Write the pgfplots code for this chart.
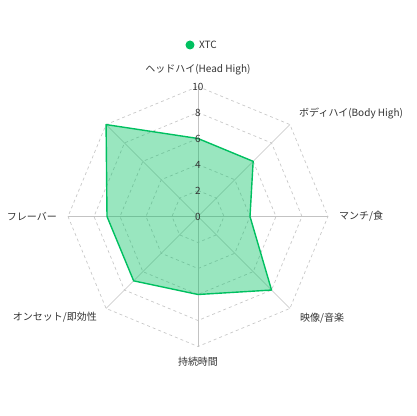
\documentclass[border=0pt]{standalone}
\usepackage{pgfplots}
\pgfplotsset{compat=1.18}
\usepackage{fontspec}
\setmainfont{Noto Sans CJK JP}
\definecolor{xtc}{RGB}{0,192,96}
\definecolor{gridc}{RGB}{200,200,200}
\definecolor{spokec}{RGB}{195,195,195}
\definecolor{txt}{RGB}{51,51,51}
\begin{document}
\begin{tikzpicture}[font=\fontsize{10}{12}\selectfont, text=txt]
\begin{axis}[x=13pt, y=13pt, hide axis, xmin=-10, xmax=10, ymin=-10, ymax=10, clip=false]
% rings
\addplot[gridc, line width=0.7pt, dash pattern=on 3pt off 3pt, data cs=polar] coordinates {(90,2)(45,2)(0,2)(-45,2)(-90,2)(-135,2)(180,2)(135,2)(90,2)};
\addplot[gridc, line width=0.7pt, dash pattern=on 3pt off 3pt, data cs=polar] coordinates {(90,4)(45,4)(0,4)(-45,4)(-90,4)(-135,4)(180,4)(135,4)(90,4)};
\addplot[gridc, line width=0.7pt, dash pattern=on 3pt off 3pt, data cs=polar] coordinates {(90,6)(45,6)(0,6)(-45,6)(-90,6)(-135,6)(180,6)(135,6)(90,6)};
\addplot[gridc, line width=0.7pt, dash pattern=on 3pt off 3pt, data cs=polar] coordinates {(90,8)(45,8)(0,8)(-45,8)(-90,8)(-135,8)(180,8)(135,8)(90,8)};
\addplot[gridc, line width=0.7pt, dash pattern=on 3pt off 3pt, data cs=polar] coordinates {(90,10)(45,10)(0,10)(-45,10)(-90,10)(-135,10)(180,10)(135,10)(90,10)};
% spokes
\addplot[spokec, line width=0.7pt, data cs=polar] coordinates {(90,0)(90,10)};
\addplot[spokec, line width=0.7pt, data cs=polar] coordinates {(45,0)(45,10)};
\addplot[spokec, line width=0.7pt, data cs=polar] coordinates {(0,0)(0,10)};
\addplot[spokec, line width=0.7pt, data cs=polar] coordinates {(-45,0)(-45,10)};
\addplot[spokec, line width=0.7pt, data cs=polar] coordinates {(-90,0)(-90,10)};
\addplot[spokec, line width=0.7pt, data cs=polar] coordinates {(-135,0)(-135,10)};
\addplot[spokec, line width=0.7pt, data cs=polar] coordinates {(180,0)(180,10)};
\addplot[spokec, line width=0.7pt, data cs=polar] coordinates {(135,0)(135,10)};
% data
\addplot[xtc, line width=1.4pt, fill=xtc, fill opacity=0.4, draw opacity=1, line join=round, data cs=polar] coordinates {(90,6)(45,6)(0,4)(-45,8)(-90,6)(-135,7)(180,7)(135,10)} -- cycle;
% radial tick labels
\node at (axis cs:0,0) {0};
\node at (axis cs:0,2) {2};
\node at (axis cs:0,4) {4};
\node at (axis cs:0,6) {6};
\node at (axis cs:0,8) {8};
\node at (axis cs:0,10) {10};
\coordinate (c) at (axis cs:0,0);
\end{axis}
% category labels
\node at ([shift={(0pt,146.5pt)}]c) {ヘッドハイ(Head High)};
\node[anchor=west, inner sep=0pt] at ([shift={(101pt,103.5pt)}]c) {ボディハイ(Body High)};
\node[anchor=west, inner sep=0pt] at ([shift={(141pt,0pt)}]c) {マンチ/食};
\node[anchor=west, inner sep=0pt] at ([shift={(102pt,-101.5pt)}]c) {映像/音楽};
\node at ([shift={(0pt,-145pt)}]c) {持続時間};
\node[anchor=east, inner sep=0pt] at ([shift={(-101pt,-100.5pt)}]c) {オンセット/即効性};
\node[anchor=east, inner sep=0pt] at ([shift={(-141pt,0pt)}]c) {フレーバー};
% legend
\fill[xtc] ([shift={(-8pt,171.5pt)}]c) circle (4.5pt);
\node[anchor=west, inner sep=0pt] at ([shift={(1pt,171.5pt)}]c) {XTC};
\pgfresetboundingbox
\path[use as bounding box] ([shift={(-198pt,-199.5pt)}]c) rectangle ([shift={(218pt,216.5pt)}]c);
\end{tikzpicture}
\end{document}
